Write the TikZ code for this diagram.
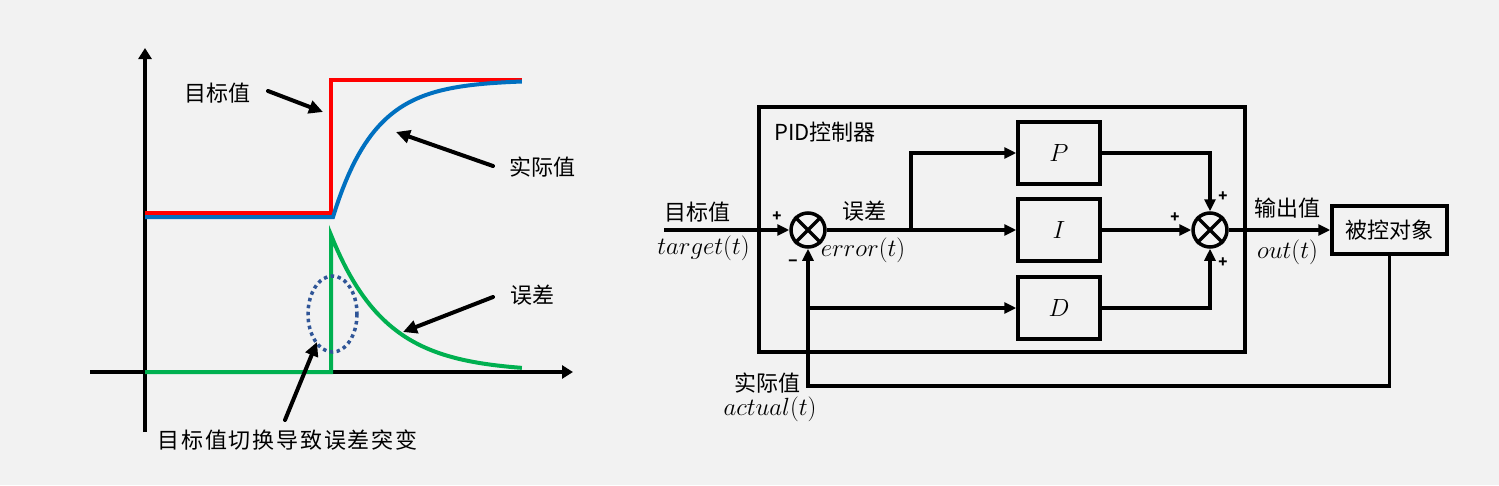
\documentclass[tikz,border=0pt]{standalone}
\usepackage{fontspec}
\setmainfont{Noto Sans CJK SC}
\usetikzlibrary{arrows.meta}
\definecolor{bgcol}{HTML}{F2F2F2}
\definecolor{tgtred}{HTML}{FF0000}
\definecolor{actblue}{HTML}{0070C0}
\definecolor{errgreen}{HTML}{00B050}
\definecolor{dotblue}{HTML}{2F5597}

\begin{document}
\begin{tikzpicture}[x=1pt,y=-1pt,
	cjk/.style={font=\fontsize{22}{26}\selectfont},
	mth/.style={font=\fontsize{24}{28}\selectfont},
	blk/.style={draw,line width=3.5pt,minimum width=82pt,minimum height=62pt,inner sep=0pt},
	sum/.style={draw,circle,line width=3.5pt,minimum size=34pt,inner sep=0pt},
	conn/.style={line width=3.2pt,-{Triangle[length=12pt,width=11pt]}},
	ptr/.style={line width=4pt,line cap=round,-{Triangle[length=14pt,width=13pt]}},
	axis/.style={line width=4pt,-{Triangle[length=11pt,width=13pt]}},
	sgn/.style={font=\fontsize{15}{16}\selectfont\bfseries,inner sep=0pt}]
	\path[use as bounding box,fill=bgcol] (0,0) rectangle (1499,485);

	\draw[axis] (145,432) -- (145,48);
	\draw[axis] (90,372) -- (573,372);
	\draw[line width=4pt,tgtred] (145,213) -- (331,213) -- (331,80) -- (522,80);
	\draw[line width=4pt,actblue] (145,217) -- (333,217) -- plot[domain=0:1,samples=60] ({333+189*\x},{217-137*(1-exp(-4.5*\x))});
	\draw[line width=4pt,errgreen] (145,372) -- (331,372) -- (331,235) -- plot[domain=0:1,samples=60] ({331+191*\x},{372-137*exp(-3.5*\x)});
	\draw[line width=3.5pt,dotblue,dash pattern=on 3.5pt off 3.5pt] (332.5,314) ellipse [x radius=24.5,y radius=38];

	\node[cjk] (tgtlbl) at (217.5,93) {目标值};
	\node[cjk] (actlbl) at (542.5,167) {实际值};
	\node[cjk] (errlbl) at (532,295) {误差};
	\node[cjk,font=\fontsize{22}{26}\selectfont\addfontfeature{LetterSpace=8}] (jmplbl) at (287.5,440) {目标值切换导致误差突变};
	\coordinate (tgts) at (268,91);
	\coordinate (tgtt) at (323,112);
	\coordinate (acts) at (493,166);
	\coordinate (actt) at (396,132);
	\coordinate (errs) at (493,297);
	\coordinate (errt) at (403,332);
	\coordinate (jmps) at (285,420);
	\coordinate (jmpt) at (317,342);
	\draw[ptr] (tgts) -- (tgtt);
	\draw[ptr] (acts) -- (actt);
	\draw[ptr] (errs) -- (errt);
	\draw[ptr] (jmps) -- (jmpt);

	\node[draw,line width=3.5pt,minimum width=486pt,minimum height=245pt] (pid) at (1002,229.5) {};
	\node[cjk] (pidlbl) at (825,132) {PID控制器};
	\node[sum] (s1) at (808,230) {};
	\node[sum] (s2) at (1210,230) {};
	\draw[line width=3.5pt] (s1.north west) -- (s1.south east) (s1.north east) -- (s1.south west);
	\draw[line width=3.5pt] (s2.north west) -- (s2.south east) (s2.north east) -- (s2.south west);
	\node[blk,mth] (P) at (1059,153) {$P$};
	\node[blk,mth] (I) at (1059,230) {$I$};
	\node[blk,mth] (D) at (1059,308) {$D$};
	\node[blk,cjk,minimum width=115pt,minimum height=48pt] (plant) at (1389.5,230) {被控对象};

	\coordinate (tin) at (664,230);
	\coordinate (ebr) at (911,230);
	\coordinate (dbr) at (808,308);
	\coordinate (fb) at (808,386);
	\draw[conn] (tin) -- (s1);
	\draw[line width=3.2pt] (s1) -- (ebr);
	\draw[conn] (ebr) -- (I);
	\draw[conn] (ebr) |- (P.west);
	\draw[conn] (P.east) -| (s2.north);
	\draw[conn] (I) -- (s2);
	\draw[conn] (D.east) -| (s2.south);
	\draw[conn] (s2) -- (plant);
	\draw[conn] (plant.south) |- (fb) -- (s1.south);
	\draw[conn] (dbr) -- (D.west);

	\node[cjk] (tgtin) at (697.5,212) {目标值};
	\node[mth] (tgtmth) at (703.5,248) {$target(t)$};
	\node[cjk] (errin) at (864,211) {误差};
	\node[mth] (errmth) at (863,250) {$error(t)$};
	\node[cjk] (outlbl) at (1287.5,208) {输出值};
	\node[mth] (outmth) at (1287.5,252) {$out(t)$};
	\node[cjk] (fblbl) at (767,383) {实际值};
	\node[mth] (fbmth) at (770,409) {$actual(t)$};
	\node[sgn] (pl1) at (777,217) {+};
	\node[sgn] (mn1) at (793,263) {−};
	\node[sgn] (pl2) at (1223,197) {+};
	\node[sgn] (pl3) at (1175,218) {+};
	\node[sgn] (pl4) at (1223,263) {+};
\end{tikzpicture}
\end{document}
